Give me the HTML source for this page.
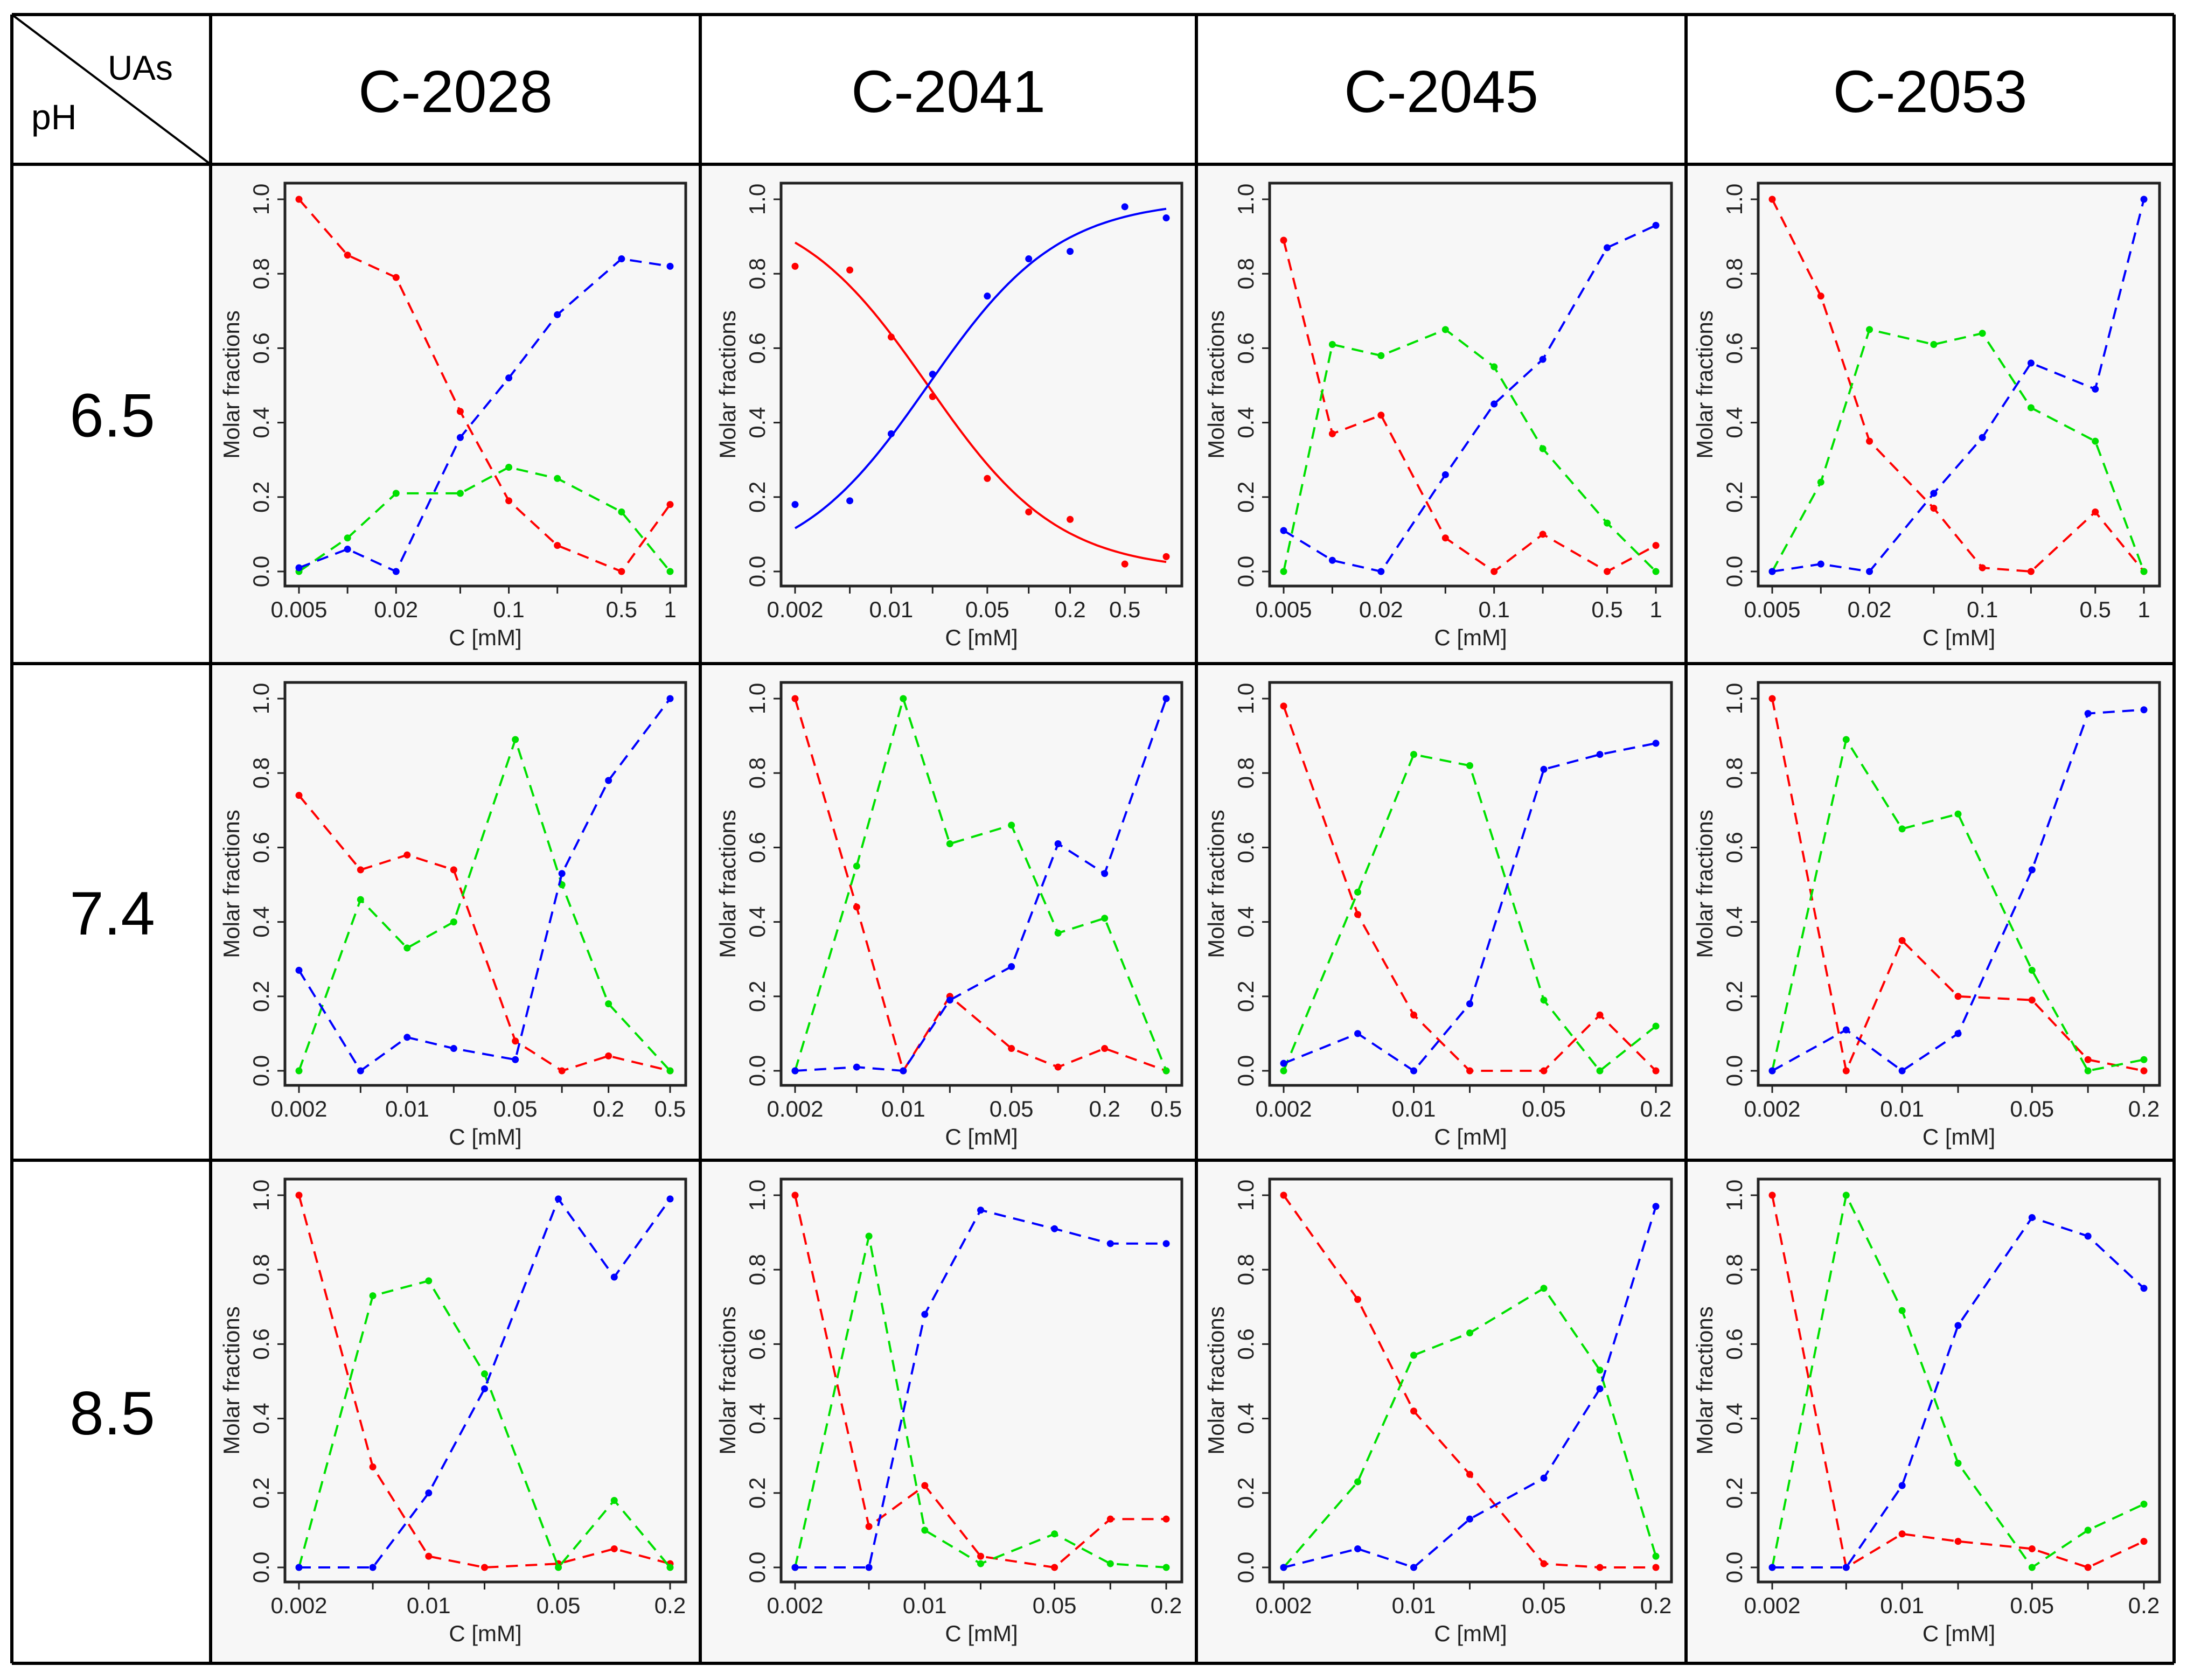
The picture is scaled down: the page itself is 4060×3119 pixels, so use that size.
<!DOCTYPE html>
<html><head><meta charset="utf-8"><style>
html,body{margin:0;padding:0;background:#fff;}
svg{display:block;}
text{font-family:"Liberation Sans",Arial,sans-serif;}
</style></head><body>
<svg id="fig" xmlns="http://www.w3.org/2000/svg" width="4060" height="3119" viewBox="0 0 4060 3119">
<rect x="0" y="0" width="4060" height="3119" fill="#fff"/>
<g id="cells"></g>
<g id="plots"></g>
<g id="grid"></g>
<g id="headers"></g>
</svg>
<script>
// ---- x categories (concentration, mM) ----
const xA = [0.005, 0.01, 0.02, 0.05, 0.1, 0.2, 0.5, 1];
const xB = [0.002, 0.005, 0.01, 0.02, 0.05, 0.1, 0.2, 0.5, 1];
const xC = [0.002, 0.005, 0.01, 0.02, 0.05, 0.1, 0.2, 0.5];
const xD = [0.002, 0.005, 0.01, 0.02, 0.05, 0.1, 0.2];
const labA = ["0.005", "0.02", "0.1", "0.5", "1"];
const labB = ["0.002", "0.01", "0.05", "0.2", "0.5"];
const labC = ["0.002", "0.01", "0.05", "0.2", "0.5"];
const labD = ["0.002", "0.01", "0.05", "0.2"];
const yTicks = [0, 0.2, 0.4, 0.6, 0.8, 1.0];
const yTickLabels = ["0.0", "0.2", "0.4", "0.6", "0.8", "1.0"];
const colNames = ["C-2028", "C-2041", "C-2045", "C-2053"];
const rowNames = ["6.5", "7.4", "8.5"];

// ---- pH 6.5 ----
const r1c1Red   = [1.0, 0.85, 0.79, 0.43, 0.19, 0.07, 0.0, 0.18];
const r1c1Green = [0.0, 0.09, 0.21, 0.21, 0.28, 0.25, 0.16, 0.0];
const r1c1Blue  = [0.01, 0.06, 0.0, 0.36, 0.52, 0.69, 0.84, 0.82];
const r1c2Red   = [0.82, 0.81, 0.63, 0.47, 0.25, 0.16, 0.14, 0.02, 0.04];
const r1c2Blue  = [0.18, 0.19, 0.37, 0.53, 0.74, 0.84, 0.86, 0.98, 0.95];
const r1c2FitMid = 0.0185;   // fitted midpoint (mM)
const r1c2FitSlope = 2.1;    // fitted slope (per log10 unit)
const r1c3Red   = [0.89, 0.37, 0.42, 0.09, 0.0, 0.10, 0.0, 0.07];
const r1c3Green = [0.0, 0.61, 0.58, 0.65, 0.55, 0.33, 0.13, 0.0];
const r1c3Blue  = [0.11, 0.03, 0.0, 0.26, 0.45, 0.57, 0.87, 0.93];
const r1c4Red   = [1.0, 0.74, 0.35, 0.17, 0.01, 0.0, 0.16, 0.0];
const r1c4Green = [0.0, 0.24, 0.65, 0.61, 0.64, 0.44, 0.35, 0.0];
const r1c4Blue  = [0.0, 0.02, 0.0, 0.21, 0.36, 0.56, 0.49, 1.0];
// ---- pH 7.4 ----
const r2c1Red   = [0.74, 0.54, 0.58, 0.54, 0.08, 0.0, 0.04, 0.0];
const r2c1Green = [0.0, 0.46, 0.33, 0.40, 0.89, 0.50, 0.18, 0.0];
const r2c1Blue  = [0.27, 0.0, 0.09, 0.06, 0.03, 0.53, 0.78, 1.0];
const r2c2Red   = [1.0, 0.44, 0.0, 0.20, 0.06, 0.01, 0.06, 0.0];
const r2c2Green = [0.0, 0.55, 1.0, 0.61, 0.66, 0.37, 0.41, 0.0];
const r2c2Blue  = [0.0, 0.01, 0.0, 0.19, 0.28, 0.61, 0.53, 1.0];
const r2c3Red   = [0.98, 0.42, 0.15, 0.0, 0.0, 0.15, 0.0];
const r2c3Green = [0.0, 0.48, 0.85, 0.82, 0.19, 0.0, 0.12];
const r2c3Blue  = [0.02, 0.10, 0.0, 0.18, 0.81, 0.85, 0.88];
const r2c4Red   = [1.0, 0.0, 0.35, 0.20, 0.19, 0.03, 0.0];
const r2c4Green = [0.0, 0.89, 0.65, 0.69, 0.27, 0.0, 0.03];
const r2c4Blue  = [0.0, 0.11, 0.0, 0.10, 0.54, 0.96, 0.97];
// ---- pH 8.5 ----
const r3c1Red   = [1.0, 0.27, 0.03, 0.0, 0.01, 0.05, 0.01];
const r3c1Green = [0.0, 0.73, 0.77, 0.52, 0.0, 0.18, 0.0];
const r3c1Blue  = [0.0, 0.0, 0.20, 0.48, 0.99, 0.78, 0.99];
const r3c2Red   = [1.0, 0.11, 0.22, 0.03, 0.0, 0.13, 0.13];
const r3c2Green = [0.0, 0.89, 0.10, 0.01, 0.09, 0.01, 0.0];
const r3c2Blue  = [0.0, 0.0, 0.68, 0.96, 0.91, 0.87, 0.87];
const r3c3Red   = [1.0, 0.72, 0.42, 0.25, 0.01, 0.0, 0.0];
const r3c3Green = [0.0, 0.23, 0.57, 0.63, 0.75, 0.53, 0.03];
const r3c3Blue  = [0.0, 0.05, 0.0, 0.13, 0.24, 0.48, 0.97];
const r3c4Red   = [1.0, 0.0, 0.09, 0.07, 0.05, 0.0, 0.07];
const r3c4Green = [0.0, 1.0, 0.69, 0.28, 0.0, 0.10, 0.17];
const r3c4Blue  = [0.0, 0.0, 0.22, 0.65, 0.94, 0.89, 0.75];

const NS = "http://www.w3.org/2000/svg";
function mk(tag, attrs, parent) {
  const e = document.createElementNS(NS, tag);
  for (const k in attrs) e.setAttribute(k, attrs[k]);
  parent.appendChild(e);
  return e;
}
const colX = [22, 391, 1300, 2221, 3130, 4036];
const rowY = [27, 305, 1232, 2154, 3088];
const boxOff = [138, 150, 136, 134];

const panels = [
  {r:0,c:0,x:xA,lab:labA,s:[["red",r1c1Red],["green",r1c1Green],["blue",r1c1Blue]]},
  {r:0,c:1,x:xB,lab:labB,s:[["red",r1c2Red],["blue",r1c2Blue]],fit:true},
  {r:0,c:2,x:xA,lab:labA,s:[["red",r1c3Red],["green",r1c3Green],["blue",r1c3Blue]]},
  {r:0,c:3,x:xA,lab:labA,s:[["red",r1c4Red],["green",r1c4Green],["blue",r1c4Blue]]},
  {r:1,c:0,x:xC,lab:labC,s:[["red",r2c1Red],["green",r2c1Green],["blue",r2c1Blue]]},
  {r:1,c:1,x:xC,lab:labC,s:[["red",r2c2Red],["green",r2c2Green],["blue",r2c2Blue]]},
  {r:1,c:2,x:xD,lab:labD,s:[["red",r2c3Red],["green",r2c3Green],["blue",r2c3Blue]]},
  {r:1,c:3,x:xD,lab:labD,s:[["red",r2c4Red],["green",r2c4Green],["blue",r2c4Blue]]},
  {r:2,c:0,x:xD,lab:labD,s:[["red",r3c1Red],["green",r3c1Green],["blue",r3c1Blue]]},
  {r:2,c:1,x:xD,lab:labD,s:[["red",r3c2Red],["green",r3c2Green],["blue",r3c2Blue]]},
  {r:2,c:2,x:xD,lab:labD,s:[["red",r3c3Red],["green",r3c3Green],["blue",r3c3Blue]]},
  {r:2,c:3,x:xD,lab:labD,s:[["red",r3c4Red],["green",r3c4Green],["blue",r3c4Blue]]}
];
const colorMap = {red:"#ff0000", green:"#00e000", blue:"#0000ff"};

const cellsG = document.getElementById("cells");
const plotsG = document.getElementById("plots");
const gridG = document.getElementById("grid");
const headG = document.getElementById("headers");

panels.forEach(p => {
  const cl = colX[p.c+1], cr = colX[p.c+2], ct = rowY[p.r+1], cb = rowY[p.r+2];
  const bg = mk("rect", {x:cl+4, y:ct+4, width:cr-cl-8, height:cb-ct-8, fill:"#f7f7f7"}, cellsG);
  
  
  const g = mk("g", {}, plotsG);
  
  
  const L = cl + boxOff[p.c], R = cr - 27, T = ct + 35, B = ct + 783;
  const x0 = L + 26, x1 = R - 29, yTop = T + 30, yBot = B - 27;
  const lmin = Math.log10(p.x[0]), lmax = Math.log10(p.x[p.x.length-1]);
  const sx = v => x0 + (Math.log10(v) - lmin) / (lmax - lmin) * (x1 - x0);
  const sy = v => yBot - v * (yBot - yTop);
  const box = mk("rect", {x:L, y:T, width:R-L, height:B-T, fill:"none", stroke:"#222", "stroke-width":5}, g);
  
  
  yTicks.forEach((v, i) => {
    const y = sy(v);
    const t = mk("line", {x1:L, x2:L-14, y1:y, y2:y, stroke:"#222", "stroke-width":3}, g);
    
    
    const tx = mk("text", {x:L-30, y:y, "font-size":42, fill:"#222", "text-anchor":"middle", transform:`rotate(-90 ${L-30} ${y})`}, g);
    tx.textContent = yTickLabels[i];
    
    
  });
  const yt = mk("text", {x:L-85, y:(T+B)/2, "font-size":42, fill:"#222", "text-anchor":"middle", transform:`rotate(-90 ${L-85} ${(T+B)/2})`}, g);
  yt.textContent = "Molar fractions";
  
  
  p.x.forEach(v => {
    const x = sx(v);
    const t = mk("line", {x1:x, x2:x, y1:B, y2:B+14, stroke:"#222", "stroke-width":3}, g);
    
    
  });
  p.lab.forEach(s => {
    const x = sx(parseFloat(s));
    const tx = mk("text", {x:x, y:B+58, "font-size":42, fill:"#222", "text-anchor":"middle"}, g);
    tx.textContent = s;
    
    
  });
  const xt = mk("text", {x:(L+R)/2, y:B+110, "font-size":42, fill:"#222", "text-anchor":"middle"}, g);
  xt.textContent = "C [mM]";
  
  
  p.s.forEach(([col, vals]) => {
    const c = colorMap[col];
    if (!p.fit) {
      const pts = vals.map((v, i) => sx(p.x[i]).toFixed(1) + "," + sy(v).toFixed(1)).join(" ");
      const pl = mk("polyline", {points:pts, fill:"none", stroke:c, "stroke-width":4, "stroke-dasharray":"22 14"}, g);
      
      
    } else {
      const d = [];
      for (let k = 0; k <= 80; k++) {
        const lv = lmin + (lmax - lmin) * k / 80;
        const z = r1c2FitSlope * (lv - Math.log10(r1c2FitMid));
        let f = 1 / (1 + Math.exp(-z));
        if (col === "red") f = 1 - f;
        const xv = x0 + (lv - lmin) / (lmax - lmin) * (x1 - x0);
        d.push((k ? "L" : "M") + xv.toFixed(1) + "," + sy(f).toFixed(1));
      }
      const cv = mk("path", {d:d.join(""), fill:"none", stroke:c, "stroke-width":4}, g);
      
      
    }
    vals.forEach((v, i) => {
      const pt = mk("circle", {cx:sx(p.x[i]), cy:sy(v), r:6.5, fill:c}, g);
      
      
    });
  });
});

colX.forEach(x => {
  const l = mk("line", {x1:x, x2:x, y1:rowY[0], y2:rowY[4], stroke:"#000", "stroke-width":6}, gridG);
  
  
});
rowY.forEach(y => {
  const l = mk("line", {x1:colX[0], x2:colX[5], y1:y, y2:y, stroke:"#000", "stroke-width":6}, gridG);
  
  
});
const diag = mk("line", {x1:colX[0], y1:rowY[0], x2:colX[1], y2:rowY[1], stroke:"#000", "stroke-width":4}, gridG);



colNames.forEach((n, i) => {
  const t = mk("text", {x:(colX[i+1]+colX[i+2])/2, y:208, "font-size":110, fill:"#000", "text-anchor":"middle"}, headG);
  t.textContent = n;
  
  
});
rowNames.forEach((n, i) => {
  const t = mk("text", {x:(colX[0]+colX[1])/2 + 2, y:(rowY[i+1]+rowY[i+2])/2 + 42, "font-size":114, fill:"#000", "text-anchor":"middle"}, headG);
  t.textContent = n;
  
  
});
const uas = mk("text", {x:200, y:148, "font-size":64, fill:"#000"}, headG);
uas.textContent = "UAs";


const ph = mk("text", {x:58, y:240, "font-size":66, fill:"#000"}, headG);
ph.textContent = "pH";


</script>
</body></html>
